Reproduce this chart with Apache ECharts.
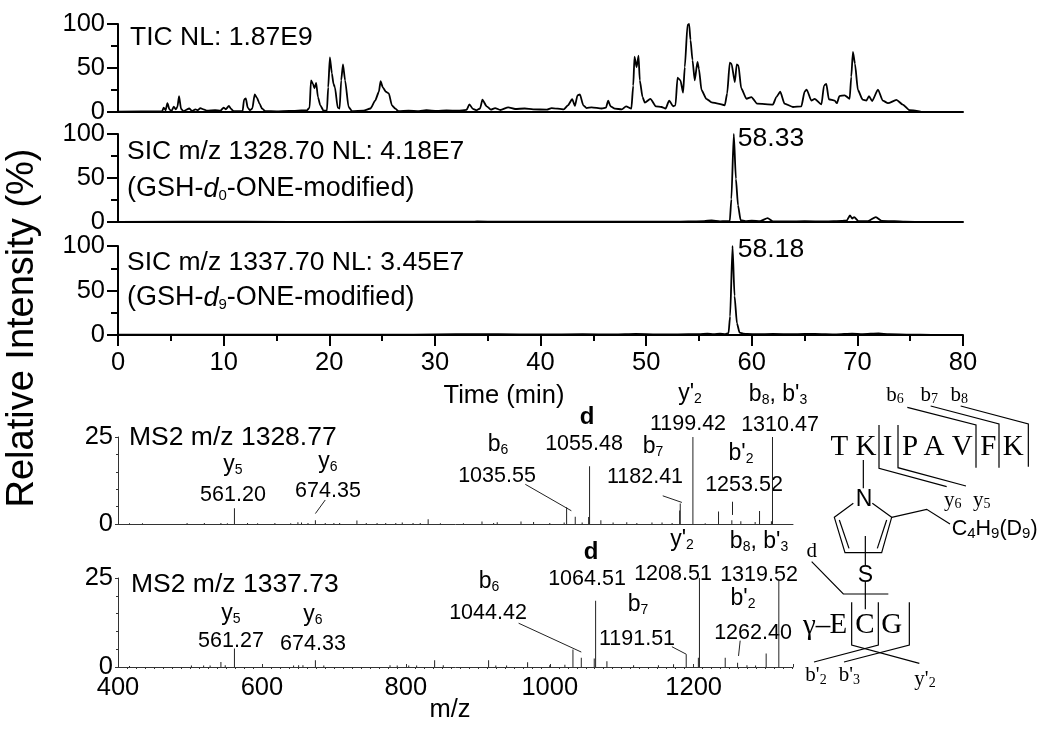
<!DOCTYPE html>
<html><head><meta charset="utf-8">
<style>html,body{margin:0;padding:0;background:#fff}#c{width:1050px;height:732px}</style>
<script src="https://cdn.jsdelivr.net/npm/echarts@6/dist/echarts.min.js"></script>
</head><body><div id="c"></div>
<script>
const ticTime=[0,4.18,4.33,4.5,4.68,4.87,5.06,5.28,5.47,5.63,5.78,5.97,6.2,6.76,7,7.33,7.55,7.8,8.1,8.43,9.2,9.7,10,10.2,10.5,10.7,10.95,11.8,11.93,12.1,12.28,12.5,12.72,12.94,13.16,13.4,13.63,13.95,15,16.2,17.9,18.14,18.27,18.46,18.6,18.76,18.93,19.15,19.46,19.78,19.9,20.06,20.25,20.4,20.54,20.8,20.98,21.13,21.3,21.5,21.83,22.15,23.25,23.9,24.35,24.7,24.86,25.07,25.36,25.64,25.93,26.24,26.55,27.5,28.5,29.2,30.2,31.1,32.2,33,33.27,33.6,33.96,34.28,34.5,34.9,35.3,35.7,36.2,36.95,37.6,38.5,39.3,40.6,41.05,42.2,42.6,43,43.26,43.5,43.73,44.05,44.36,44.84,45.8,46.2,46.41,46.63,47.04,47.7,48.1,48.6,48.78,48.9,49.1,49.28,49.4,49.66,49.88,50.4,50.92,51.46,51.84,52.18,52.56,52.78,52.97,53.25,53.5,53.66,53.92,54.07,54.2,54.39,54.6,54.86,55,55.24,55.7,56.2,56.8,57.45,57.67,57.92,58.08,58.4,58.58,58.74,59,59.5,59.97,60.5,62,62.33,62.7,63.1,63.9,64.7,65,65.2,65.64,65.96,66.6,66.84,67.06,67.3,67.85,68.06,68.3,68.8,69.27,69.42,69.58,69.77,70.05,70.5,70.85,71.1,71.4,71.95,72.4,72.9,73.7,74.3,74.94,76];
const ticInt=[0.3,1,5,2,10,3,1,6,3,6,18,3.5,1,4,1,3,2,4.5,3,1.5,2,1.5,5,3,7,3.5,1,1,14,15.5,5,2,4,20,16,9.5,4,1,0.8,1.2,2,5,36,32,27,33,17,7.6,1.5,1.5,28,62,44,32,28,5,4,36,54,36,5.7,1,1.5,4,13,23,35,28,23,21,7.6,4,1,1.5,1,2,1.2,1.8,1.4,2.5,8.7,3.5,2,4,14,6.5,2.7,4.5,2.3,5.3,3.4,4,3,2.7,4.5,3,7.6,14.5,7,19,20,7.6,4.5,5.3,4,5,13,6.5,3.8,3,6.5,3.8,30,63,51,64,36,17,10.6,15,6.5,5.7,3.8,13,6.5,7.6,39,36,22,51,99,100,82,59,36,57,49,25,15,11,9.5,7.6,21,56,55,34,54,53,27,15,17,9.5,8.4,17,23,9.5,5.7,6.5,23,25.5,13,15,8.7,30,32,14.5,13,10,18,19,15,40,68.4,55,25,14,13,18,12.5,25.5,13,10,13.7,8.4,2,0.5];

const sic1Time=[0,12,20.5,30,33.5,34,36,40,43.5,45,47,50,52.5,54,55.5,56.2,57,57.5,57.92,58.07,58.3,58.5,58.7,58.95,59.4,60,60.8,61.5,62,63.5,65,67,68.5,69,69.3,69.5,69.7,70.1,71,71.75,72.3,73.5,74.5,76];
const sic1Int=[0.2,0.3,0.2,0.4,0.3,0.7,0.3,0.5,0.3,0.5,0.3,0.5,0.4,0.6,1,1.8,0.7,1,1,26,100,49,19,2,1,1.6,0.9,4.5,0.8,0.6,0.9,0.6,1.2,1.8,7.5,4,5.6,1,1,5.6,1.3,0.9,0.4,0.1];

const sic2Time=[0,20,28,32,36,40,44,47,49,51,53,55,55.8,56.4,57,57.5,57.8,57.95,58.18,58.37,58.6,58.85,59.2,59.6,60.5,62,64,66,68,69.5,70.5,72,73,75,77];
const sic2Int=[0.3,0.5,0.4,0.9,1,0.6,0.9,0.7,1.2,0.8,0.8,1,1.4,0.9,1.5,1,2,21,100,44,13,2.6,1.6,1.1,0.9,1.2,0.9,1.3,0.8,1.5,1,1.8,0.9,0.5,0.2];

const ms1Mz=[416,434,496,520,543,552,561.8,580,594,618,640,650,655,664,674.3,688,700,708,732,745,760,772,786,795,810,820,831,848,880,905.8,922,927,960,977.5,1000,1020,1023.4,1035.4,1045,1054,1055.3,1071,1088,1107,1121,1142,1156,1170,1180.5,1181.3,1198.9,1216,1234.5,1253,1265.5,1285.4,1291.5,1308,1309.5];
const ms1Int=[0.2,0.2,0.3,0.3,0.3,0.2,4.5,0.3,0.2,0.3,0.2,0.5,0.4,0.3,1.1,0.3,0.3,0.3,1,0.3,0.3,0.3,0.3,0.4,0.3,0.3,1.4,0.2,0.2,0.7,0.3,0.5,0.7,0.6,0.3,0.4,4.8,2.1,0.4,2,16.6,1.1,0.4,0.5,0.3,0.4,0.4,0.3,3.9,5.9,25,0.2,3.6,1.1,0.8,0.6,3.7,0.8,25];

const ms2Mz=[416,502,519,528,543,549,561.8,644,651,657,674.3,686,778,788,804,815,840,852,915,925,940,969.2,1000,1021,1032.2,1043.8,1061.8,1063.7,1079.4,1116.5,1151,1172,1189.6,1206.5,1208,1243.8,1261,1274,1286,1300.7,1318.3];
const ms2Int=[0.3,0.4,0.4,0.4,1.4,0.5,5.2,0.4,0.5,0.5,1.9,0.4,0.5,0.4,0.4,0.4,1.9,0.5,1.9,0.4,0.4,1.3,0.5,0.6,4.9,2.6,2.4,18.6,1.6,0.5,0.5,0.8,3.6,2.6,25,2.6,1.2,0.5,0.4,3.8,24.5];

const ms1Leaders=[[[688,6.9],[674.3,3]],[[966,11.4],[1030,3.8]],[[1157,8.1],[1183.6,6.2]],[[1253.5,6.4],[1253.5,2.6]]];
const ms2Leaders=[[[956.7,12.3],[1043.8,4.2]],[[1169.7,5.7],[1189.6,3.6]],[[1264.6,7.4],[1262.3,3.1]]];

const timeTicks=[0,10,20,30,40,50,60,70,80];
const mzTicks=[400,600,800,1000,1200];

const zip=(a,b)=>a.map((v,i)=>[v,b[i]]);
const SANS='"Liberation Sans", Arial, sans-serif', SERIF='"Liberation Serif", serif';
const L=118;
const panels=[{top:24,h:88,r:87},{top:134,h:88,r:87},{top:246,h:89,r:87},{top:437,h:87,r:257},{top:578,h:89,r:257}];
const grid=panels.map(p=>({left:L,right:p.r,top:p.top,height:p.h}));
const bl={color:'#000',width:2};
const xAxis=panels.map((p,i)=>{
  if(i<3){const last=i===2;return {gridIndex:i,type:'value',min:0,max:80,interval:10,
    axisLine:{show:true,lineStyle:bl,onZero:false},splitLine:{show:false},
    axisTick:{show:last,length:11,lineStyle:{color:'#000',width:2}},
    minorTick:{show:last,splitNumber:2,length:6,lineStyle:{color:'#000',width:2}},minorSplitLine:{show:false},
    axisLabel:{show:last,fontFamily:SANS,fontSize:25.5,color:'#000',margin:15,hideOverlap:false,
      formatter:v=>timeTicks.includes(v)?String(v):''}};}
  const last=i===4;
  return {gridIndex:i,type:'value',min:400,max:1338,interval:200,
    axisLine:{show:true,lineStyle:{color:'#333',width:1},onZero:false},splitLine:{show:false},
    axisTick:{show:last,inside:true,length:3,lineStyle:{color:'#333',width:1}},
    minorTick:{show:last,splitNumber:16,length:-2,lineStyle:{color:'#333',width:1}},
    axisLabel:{show:last,fontFamily:SANS,fontSize:25.5,color:'#000',margin:8,showMaxLabel:false,
      formatter:v=>mzTicks.includes(v)?String(v):''}};
});
const yAxis=panels.map((p,i)=>i<3?{gridIndex:i,type:'value',min:0,max:100,interval:50,
    axisLine:{show:true,lineStyle:bl},splitLine:{show:false},
    axisTick:{show:true,length:11,lineStyle:{color:'#000',width:2}},
    minorTick:{show:true,splitNumber:2,length:7,lineStyle:{color:'#000',width:2}},
    axisLabel:{fontFamily:SANS,fontSize:25.5,color:'#000',margin:13}}
  :{gridIndex:i,type:'value',min:0,max:25,interval:25,
    axisLine:{show:true,lineStyle:{color:'#333',width:1}},splitLine:{show:false},
    axisTick:{show:true,length:3,lineStyle:{color:'#333',width:1}},
    minorTick:{show:true,splitNumber:5,length:2,lineStyle:{color:'#333',width:1}},
    axisLabel:{fontFamily:SANS,fontSize:25.5,color:'#000',margin:5}});
const lineS=(i,t,v)=>({type:'line',xAxisIndex:i,yAxisIndex:i,data:zip(t,v),showSymbol:false,symbol:'none',silent:true,smooth:0.2,smoothMonotone:'x',
  lineStyle:{color:'#000',width:1.8},animation:false,clip:false});
const barS=(i,m,v,lead)=>({type:'bar',xAxisIndex:i,yAxisIndex:i,data:zip(m,v),barWidth:1,silent:true,animation:false,
  itemStyle:{color:'#222'},
  markLine:{silent:true,symbol:'none',animation:false,label:{show:false},lineStyle:{color:'#222',width:1,type:'solid'},
    data:lead.map(l=>[{coord:l[0]},{coord:l[1]}])}});
const series=[lineS(0,ticTime,ticInt),lineS(1,sic1Time,sic1Int),lineS(2,sic2Time,sic2Int),
  barS(3,ms1Mz,ms1Int,ms1Leaders),barS(4,ms2Mz,ms2Int,ms2Leaders)];

/* annotation text */
const g=[];
function richStyles(size,sub,fam,drop){return {
  a:{fontSize:size,fontFamily:fam,fill:'#000',lineHeight:size*1.15,height:size*1.15,verticalAlign:'top',padding:[0,0,drop,0]},
  i:{fontSize:size,fontFamily:fam,fontStyle:'italic',fill:'#000',lineHeight:size*1.15,height:size*1.15,verticalAlign:'top',padding:[0,0,drop,0]},
  b:{fontSize:size,fontFamily:fam,fontWeight:'bold',fill:'#000',lineHeight:size*1.15,height:size*1.15,verticalAlign:'top',padding:[0,0,drop,0]},
  s:{fontSize:sub,fontFamily:fam,fill:'#000',lineHeight:sub*1.1,height:sub*1.1,verticalAlign:'bottom'}};}
function T(txt,x,y,size,opt={}){g.push({type:'text',x,y:y+size*0.08,silent:true,style:{text:txt,fill:'#000',
  font:`${opt.weight||'normal'} ${size}px ${opt.fam||SANS}`,align:opt.align||'center',verticalAlign:'middle'}});}
function RT(txt,x,y,size,sub,opt={}){g.push({type:'text',x,y:y+2,silent:true,style:{text:txt,fill:'#000',
  font:`${size}px ${opt.fam||SANS}`,align:opt.align||'center',verticalAlign:'middle',
  rich:richStyles(size,sub,opt.fam||SANS,opt.drop==null?Math.round(size*0.3):opt.drop)}});}
g.push({type:'text',x:23,y:328,rotation:Math.PI/2,silent:true,style:{text:'Relative Intensity (%)',fill:'#000',font:`38px ${SANS}`,align:'center',verticalAlign:'middle'}});
const big=26.5,num=21.5,ionSize=23,sub=14;
T('TIC NL: 1.87E9',130,36,big,{align:'left'});
T('SIC m/z 1328.70 NL: 4.18E7',127,150,big,{align:'left'});
RT('{a|(GSH-}{i|d}{s|0}{a|-ONE-modified)}',127,187,27,15,{align:'left'});
T('SIC m/z 1337.70 NL: 3.45E7',127,261,big,{align:'left'});
RT('{a|(GSH-}{i|d}{s|9}{a|-ONE-modified)}',127,296,27,15,{align:'left'});
T('58.33',771,137,big);T('58.18',771,248,big);
T('Time (min)',504,394,25.5);T('m/z',450,708,25.5);
T('MS2 m/z 1328.77',129,436,big,{align:'left'});
T('MS2 m/z 1337.73',131,583,big,{align:'left'});
const ions=[
 ['{a|y}{s|5}',233,463],['{a|y}{s|6}',328,460],['{a|b}{s|6}',498,443],['{a|b}{s|7}',653,445],["{a|y'}{s|2}",690,392],['{a|b}{s|8}{a|, b\'}{s|3}',778,393],["{a|b'}{s|2}",741,452],
 ['{a|y}{s|5}',231,612],['{a|y}{s|6}',313,613],['{a|b}{s|6}',489,580],['{a|b}{s|7}',638,603],["{a|y'}{s|2}",682,538],['{a|b}{s|8}{a|, b\'}{s|3}',759,540],["{a|b'}{s|2}",743,597]];
ions.forEach(a=>RT(a[0],a[1],a[2],ionSize,sub));
[['561.20',233,493],['674.35',328,489],['1035.55',497,474],['1055.48',584,442],['1182.41',645,475],['1199.42',688,422],['1310.47',780,423],['1253.52',744,483],
 ['561.27',231,639],['674.33',313,642],['1044.42',488,611],['1064.51',587,577],['1191.51',637,637],['1208.51',673,572],['1319.52',759,573],['1262.40',753,631]]
 .forEach(a=>T(a[0],a[1],a[2],num));
T('d',587,415,24,{weight:'bold'});T('d',591,550,24,{weight:'bold'});

/* peptide structure drawing */
const ZX=x=>790+x/3, ZY=y=>370+y/3;
function P(pts,w){g.push({type:'polyline',silent:true,shape:{points:pts.map(p=>[ZX(p[0]),ZY(p[1])])},style:{stroke:'#000',lineWidth:w||1.2,fill:null}});}
P([[352,112],[558,165],[558,293]]);P([[422,108],[627,162],[627,293]]);P([[512,108],[715,162],[715,290]]);
P([[267,165],[267,295],[470,350]]);P([[324,165],[324,293],[528,348]]);P([[220,270],[220,355]]);
P([[190,400],[133,442],[165,548],[275,548],[305,442],[247,400]]);
P([[148,450],[177,535]]);P([[290,450],[262,535]]);P([[305,442],[410,418],[480,462]]);
P([[226,498],[226,585]]);P([[226,635],[226,718]]);P([[65,575],[160,672],[295,672]]);
P([[185,697],[185,825],[388,880]]);P([[265,697],[265,825],[72,876]]);P([[358,697],[358,825],[162,876]]);
[['T',148],['K',228],['I',293],['P',360],['A',432],['V',517],['F',595],['K',670]].forEach(a=>T(a[0],ZX(a[1]),ZY(225),29,{fam:SERIF}));
[['E',145],['C',225],['G',305]].forEach(a=>T(a[0],ZX(a[1]),ZY(760),29,{fam:SERIF}));
T('γ–',ZX(80),ZY(762),29,{fam:SERIF});
T('d',ZX(65),ZY(540),21,{fam:SERIF});
const ser={fam:SERIF};
[['{a|b}{s|6}',315,75],['{a|b}{s|7}',418,75],['{a|b}{s|8}',508,75],['{a|y}{s|6}',488,390],['{a|y}{s|5}',575,390],["{a|b'}{s|2}",78,917],["{a|b'}{s|3}",178,917],["{a|y'}{s|2}",405,927]]
 .forEach(a=>RT(a[0],ZX(a[1]),ZY(a[2])-2,21,14,ser));
T('N',ZX(222),ZY(383),23);T('S',ZX(226),ZY(610),23);
RT('{a|C}{s|4}{a|H}{s|9}{a|(D}{s|9}{a|)}',ZX(485),ZY(478)-2,21.5,15,{align:'left',drop:4});

const chart=echarts.init(document.getElementById('c'),null,{renderer:'canvas'});
chart.setOption({animation:false,backgroundColor:'#fff',grid,xAxis,yAxis,series,graphic:{elements:g}});
</script></body></html>
